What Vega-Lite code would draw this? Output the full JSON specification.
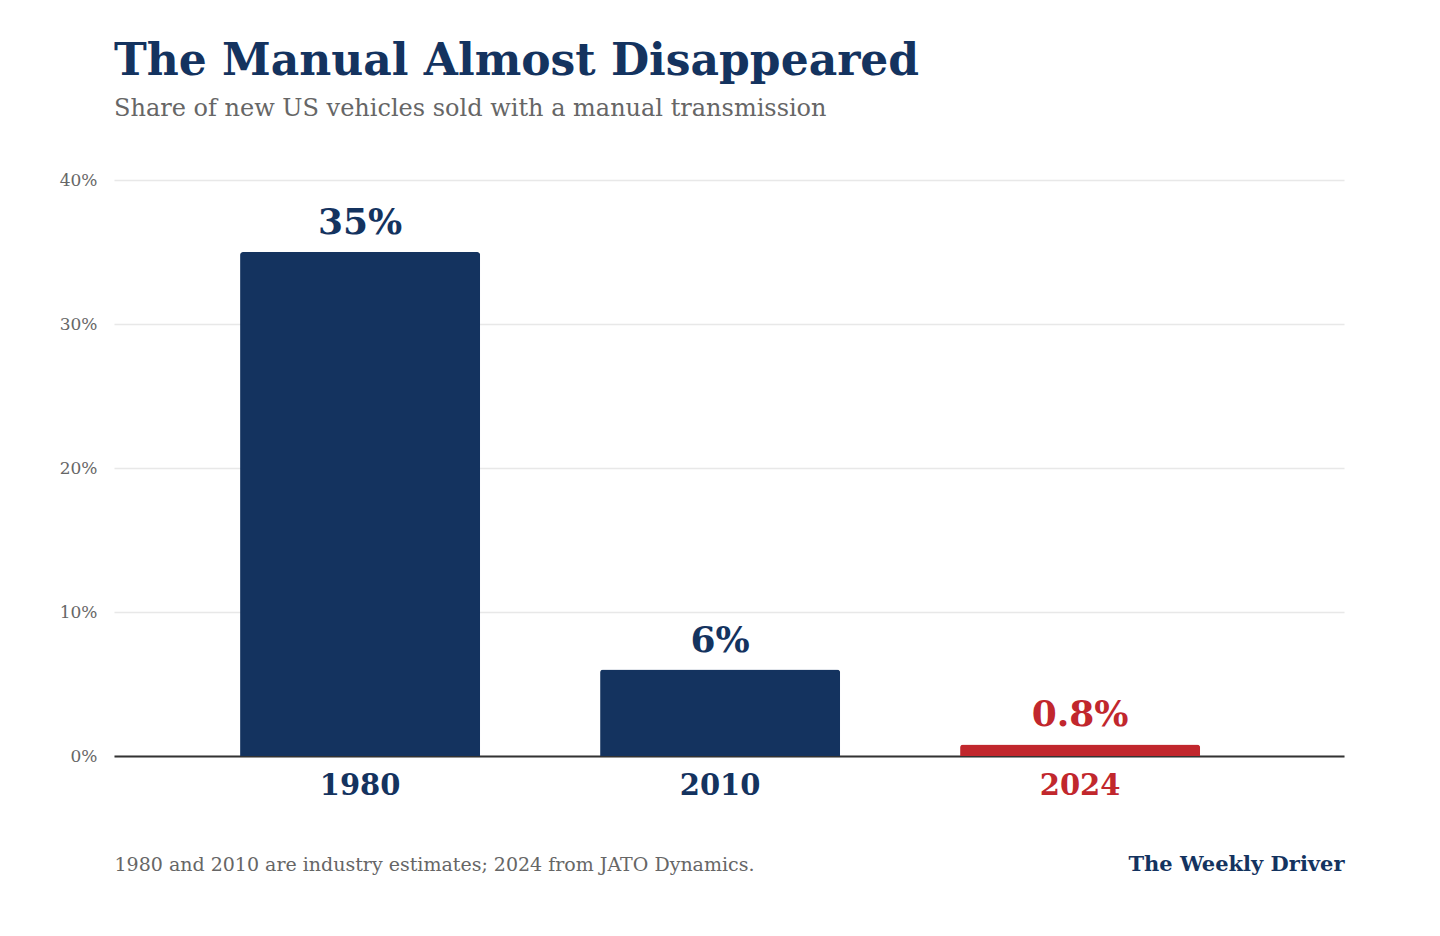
{
  "$schema": "https://vega.github.io/schema/vega-lite/v6.json",
  "width": 1230,
  "height": 576,
  "autosize": {"type": "none"},
  "padding": {"left": 114, "top": 180, "right": 96, "bottom": 180},
  "background": "#ffffff",
  "title": {
    "text": "The Manual Almost Disappeared",
    "subtitle": "Share of new US vehicles sold with a manual transmission",
    "anchor": "start",
    "frame": "group",
    "font": "Georgia, 'DejaVu Serif', serif",
    "fontSize": 44,
    "fontWeight": "bold",
    "color": "#14335F",
    "subtitleFont": "Georgia, 'DejaVu Serif', serif",
    "subtitleFontSize": 24,
    "subtitleColor": "#666666",
    "subtitlePadding": 13,
    "offset": 50
  },
  "config": {
    "view": {"stroke": null},
    "font": "Georgia, 'DejaVu Serif', serif"
  },
  "data": {
    "values": [
      {"year": "1980", "share": 35},
      {"year": "2010", "share": 6},
      {"year": "2024", "share": 0.8}
    ]
  },
  "transform": [{"calculate": "datum.share + '%'", "as": "label"}],
  "encoding": {
    "x": {
      "field": "year",
      "type": "nominal",
      "sort": null,
      "scale": {"paddingInner": 0.3333, "paddingOuter": 0.375, "align": 0.467},
      "axis": {
        "title": "1980 and 2010 are industry estimates; 2024 from JATO Dynamics.",
        "titleFont": "Georgia, 'DejaVu Serif', serif",
        "titleFontSize": 19,
        "titleFontWeight": "normal",
        "titleColor": "#666666",
        "titleAnchor": "start",
        "titleAlign": "left",
        "titleBaseline": "alphabetic",
        "titleX": 0,
        "titleY": 114,
        "labelAngle": 0,
        "labelFont": "Georgia, 'DejaVu Serif', serif",
        "labelFontSize": 29,
        "labelFontWeight": "bold",
        "labelColor": {"expr": "datum.value == '2024' ? '#C1272D' : '#14335F'"},
        "labelPadding": 15,
        "ticks": false,
        "domainColor": "#333333",
        "domainWidth": 2
      }
    },
    "y": {
      "field": "share",
      "type": "quantitative",
      "scale": {"domain": [0, 40]}
    }
  },
  "layer": [
    {
      "mark": {"type": "bar", "cornerRadiusTopLeft": 3, "cornerRadiusTopRight": 3},
      "encoding": {
        "y": {
          "field": "share",
          "type": "quantitative",
          "scale": {"domain": [0, 40]},
          "axis": {
            "title": null,
            "values": [0, 10, 20, 30, 40],
            "labelExpr": "datum.value + '%'",
            "labelFont": "Georgia, 'DejaVu Serif', serif",
            "labelFontSize": 17,
            "labelColor": "#666666",
            "labelPadding": 17,
            "ticks": false,
            "domain": false,
            "grid": true,
            "gridColor": "#e8e8e8",
            "gridWidth": 1.5
          }
        },
        "color": {
          "condition": {"test": "datum.year == '2024'", "value": "#C1272D"},
          "value": "#14335F"
        }
      }
    },
    {
      "mark": {
        "type": "text",
        "baseline": "alphabetic",
        "dy": -18,
        "font": "Georgia, 'DejaVu Serif', serif",
        "fontSize": 36,
        "fontWeight": "bold"
      },
      "encoding": {
        "y": {
          "field": "share",
          "type": "quantitative",
          "scale": {"domain": [0, 40]},
          "axis": {
            "orient": "right",
            "title": "The Weekly Driver",
            "titleAngle": 0,
            "titleAlign": "right",
            "titleBaseline": "alphabetic",
            "titleX": 0,
            "titleY": 690,
            "titleFont": "Georgia, 'DejaVu Serif', serif",
            "titleFontSize": 21,
            "titleFontWeight": "bold",
            "titleColor": "#14335F",
            "labels": false,
            "ticks": false,
            "domain": false,
            "grid": false
          }
        },
        "text": {"field": "label"},
        "color": {
          "condition": {"test": "datum.year == '2024'", "value": "#C1272D"},
          "value": "#14335F"
        }
      }
    }
  ],
  "resolve": {"axis": {"y": "independent"}}
}
